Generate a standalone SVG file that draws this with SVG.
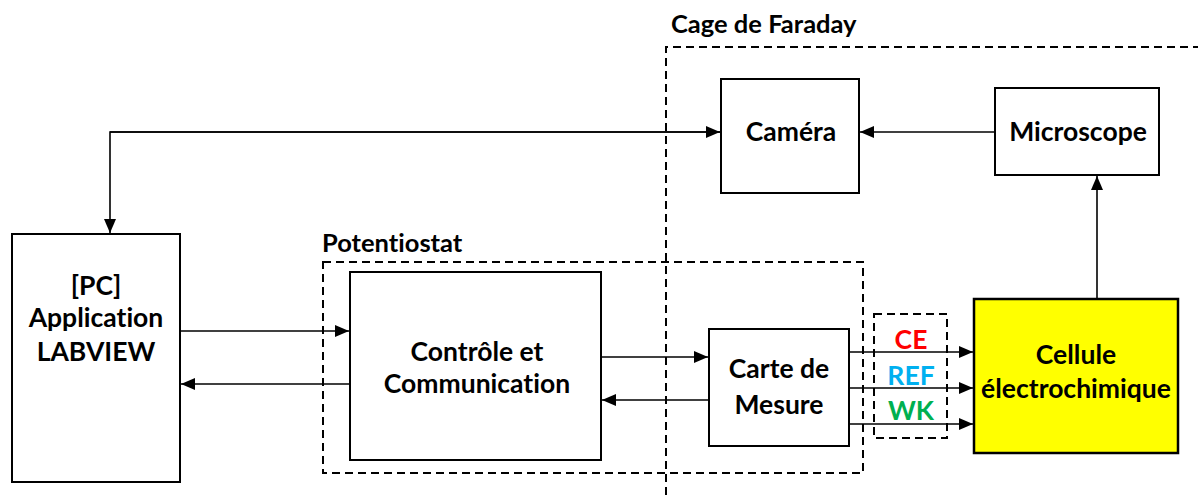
<svg xmlns="http://www.w3.org/2000/svg" width="1198" height="495" viewBox="0 0 1198 495">
<style>
.box{fill:#fff;stroke:#000;stroke-width:2}
.dash{fill:none;stroke:#000;stroke-width:2;stroke-dasharray:8 5}
.ln{fill:none;stroke:#000;stroke-width:1.6}
.t{font-family:Lato,"Open Sans","Liberation Sans",sans-serif;font-weight:bold;font-size:26.5px;fill:#000;text-anchor:middle;font-variant-ligatures:none}
.lbl{font-family:Lato,"Open Sans","Liberation Sans",sans-serif;font-weight:bold;font-size:25.5px;fill:#000;font-variant-ligatures:none}
</style>
<defs>
<marker id="ah" markerUnits="userSpaceOnUse" markerWidth="14" markerHeight="12" viewBox="0 0 14 12" refX="14" refY="6" orient="auto">
<path d="M0,0 L14,6 L0,12 Z" fill="#000"/>
</marker>
</defs>
<g id="faraday">
<path class="dash" d="M666,495 L666,47 L1198,47"/>
<text class="lbl" x="671" y="33">Cage de Faraday</text>
</g>
<g id="potentiostat">
<rect class="dash" x="323" y="262" width="540" height="211"/>
<text class="lbl" x="322" y="252">Potentiostat</text>
</g>
<g id="electrodes-group">
<rect class="dash" x="874" y="314" width="73" height="124"/>
</g>
<g id="pc">
<rect class="box" x="12" y="234" width="168" height="248"/>
<text class="t" x="96" y="295">[PC]</text>
<text class="t" x="96" y="327">Application</text>
<text class="t" x="96" y="361">LABVIEW</text>
</g>
<g id="camera">
<rect class="box" x="721" y="79" width="138" height="114"/>
<text class="t" x="791" y="141">Caméra</text>
</g>
<g id="microscope">
<rect class="box" x="995" y="88" width="164" height="87"/>
<text class="t" x="1078" y="141">Microscope</text>
</g>
<g id="controle">
<rect class="box" x="350" y="272" width="251" height="188"/>
<text class="t" x="477" y="361">Contrôle et</text>
<text class="t" x="477" y="393">Communication</text>
</g>
<g id="carte">
<rect class="box" x="709" y="329" width="140" height="117"/>
<text class="t" x="779" y="378">Carte de</text>
<text class="t" x="779" y="414">Mesure</text>
</g>
<g id="cellule">
<rect x="974" y="299" width="204" height="154" fill="#ffff00" stroke="#000" stroke-width="2.5"/>
<text class="t" x="1076" y="364">Cellule</text>
<text class="t" x="1076" y="398">électrochimique</text>
</g>
<g id="connectors">
<path class="ln" d="M720,132 L110,132 L110,233" marker-end="url(#ah)"/>
<path class="ln" d="M110,132 L720,132" marker-end="url(#ah)"/>
<path class="ln" d="M995,132 L860,132" marker-end="url(#ah)"/>
<path class="ln" d="M1097,298 L1097,176" marker-end="url(#ah)"/>
<path class="ln" d="M180,331 L349,331" marker-end="url(#ah)"/>
<path class="ln" d="M350,384 L181,384" marker-end="url(#ah)"/>
<path class="ln" d="M601,357 L708,357" marker-end="url(#ah)"/>
<path class="ln" d="M709,400 L602,400" marker-end="url(#ah)"/>
<path class="ln" d="M849,352 L973,352" marker-end="url(#ah)"/>
<path class="ln" d="M849,388 L973,388" marker-end="url(#ah)"/>
<path class="ln" d="M849,424 L973,424" marker-end="url(#ah)"/>
<text class="t" x="911" y="349" style="fill:#ff0000">CE</text>
<text class="t" x="911" y="385" style="fill:#00b0f0">REF</text>
<text class="t" x="911" y="420" style="fill:#00b050">WK</text>
</g>
</svg>
